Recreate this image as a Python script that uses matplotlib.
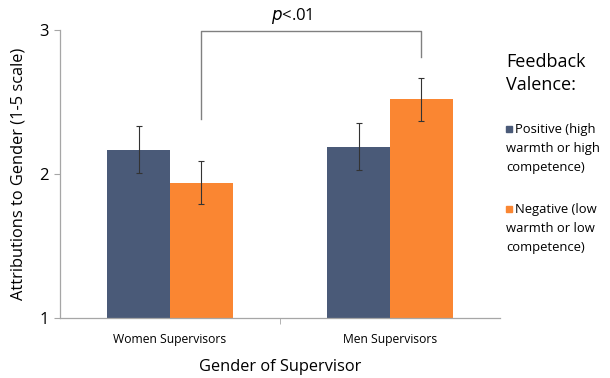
import numpy as np
import matplotlib.pyplot as plt
from matplotlib.patches import Rectangle

# Data
groups = ['Women Supervisors', 'Men Supervisors']
positive = [2.17, 2.19]
positive_err = [0.16, 0.165]
negative = [1.94, 2.52]
negative_err = [0.15, 0.15]
legend_title = ['Feedback', 'Valence:']
series_labels = [['Positive (high', 'warmth or high', 'competence)'],
                 ['Negative (low', 'warmth or low', 'competence)']]

navy = '#4A5A78'
orange = '#FA8632'
gray = '#A6A6A6'
W, H = 610, 378

plt.rcParams['font.family'] = ['Open Sans', 'DejaVu Sans']

fig = plt.figure(figsize=(W / 100, H / 100), dpi=100)
ax = fig.add_axes([60 / W, 60 / H, 440 / W, 288 / H])

x = np.arange(len(groups))
w = 0.285
ekw = dict(ecolor='#333333', elinewidth=0.8, capsize=2.5, capthick=0.8)
ax.bar(x - w / 2, positive, w, yerr=positive_err, color=navy, error_kw=ekw)
ax.bar(x + w / 2, negative, w, yerr=negative_err, color=orange, error_kw=ekw)

ax.set_xlim(-0.5, 1.5)
ax.set_ylim(1, 3)
ax.set_yticks([1, 2, 3])
ax.set_yticklabels(['1', '2', '3'], fontsize=12)
ax.set_xticks(x)
ax.set_xticklabels(groups, fontsize=8.7)
ax.tick_params(axis='x', length=0, pad=11)
ax.tick_params(axis='y', length=4, color=gray, pad=4)
ax.set_xticks([0.5], minor=True)
ax.tick_params(axis='x', which='minor', length=4, color=gray)

for s in ['top', 'right']:
    ax.spines[s].set_visible(False)
for s in ['left', 'bottom']:
    ax.spines[s].set_color(gray)
    ax.spines[s].set_linewidth(0.9)

ax.set_ylabel('Attributions to Gender (1-5 scale)', fontsize=11.8, labelpad=9)
ax.set_xlabel('Gender of Supervisor', fontsize=11.8, labelpad=9)

# significance bracket
ax.plot([x[0] + w / 2, x[0] + w / 2, x[1] + w / 2, x[1] + w / 2],
        [2.38, 2.99, 2.99, 2.81], color='#808080', lw=1, clip_on=False)
fig.text(292 / W, 1 - 16 / H, r'$p$<.01', ha='center', va='center', fontsize=12)

# legend, laid out by hand like the original
for i, line in enumerate(legend_title):
    fig.text(506 / W, 1 - (62 + 23 * i) / H, line, ha='left', va='center', fontsize=13)
for c, lines, y0 in zip([navy, orange], series_labels, [129, 209]):
    fig.patches.append(Rectangle((506 / W, 1 - (y0 + 3) / H), 6 / W, 6 / H,
                                 transform=fig.transFigure, color=c))
    for i, line in enumerate(lines):
        xs = 515 if i == 0 else 506
        fig.text(xs / W, 1 - (y0 + 19.5 * i) / H, line, ha='left', va='center', fontsize=9.4)

fig.savefig('out.png', dpi=100)
